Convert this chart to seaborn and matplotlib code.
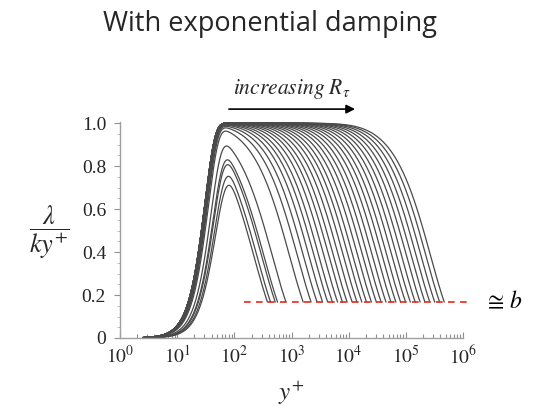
import numpy as np
import pandas as pd
import matplotlib
matplotlib.use("Agg")
import matplotlib.pyplot as plt
import seaborn as sns

# Friction Reynolds numbers of the plotted cases (each curve ends at y+ = R_tau)
r_tau = [380, 430, 520, 570, 800, 1600, 2200, 2800,
         3500, 4300, 5200, 6400, 7800, 9400, 11500, 14000, 17000, 20500,
         25000, 30500, 37000, 45000, 55000, 67000, 81000, 99000, 120000,
         146000, 178000, 216000, 263000, 320000, 390000, 470000]

# Model constants
b_value = 0.167         # outer-edge value of lambda / (k y+)
damping_a = 30.8        # near-wall damping length (wall units)
damping_n = 2.5         # exponent of the near-wall damping
low_re_shift = 250.0    # growth of the damping length at low R_tau
outer_m = 1.1           # exponent of the outer exponential damping
outer_eps = 0.03        # rounding of the outer damping near the wall

x_ticks = [1e0, 1e1, 1e2, 1e3, 1e4, 1e5, 1e6]
x_tick_labels = [r"$10^{0}$", r"$10^{1}$", r"$10^{2}$", r"$10^{3}$",
                 r"$10^{4}$", r"$10^{5}$", r"$10^{6}$"]
y_ticks = [0, 0.2, 0.4, 0.6, 0.8, 1.0]
y_tick_labels = ["0", "0.2", "0.4", "0.6", "0.8", "1.0"]


def mixing_ratio(yp, rt):
    """lambda / (k y+) with near-wall and outer exponential damping."""
    a = damping_a * (1.0 + low_re_shift / rt)
    near = 1.0 - np.exp(-(yp / a) ** damping_n)
    eta = yp / rt
    norm = (1.0 + outer_eps ** 2) ** (outer_m / 2) - outer_eps ** outer_m
    k = np.log(1.0 / b_value) / norm
    outer = np.exp(-k * ((eta ** 2 + outer_eps ** 2) ** (outer_m / 2)
                         - outer_eps ** outer_m))
    return near * outer


frames = []
for rt in r_tau:
    yp = np.logspace(np.log10(2.5), np.log10(rt), 500)
    frames.append(pd.DataFrame({"yplus": yp,
                                "ratio": mixing_ratio(yp, rt),
                                "case": rt}))
df = pd.concat(frames, ignore_index=True)

sns.set_style("white")
plt.rcParams["font.family"] = ["Liberation Serif", "DejaVu Serif"]
plt.rcParams["mathtext.fontset"] = "stix"

fig = plt.figure(figsize=(5.36, 4.09), dpi=100)
ax = fig.add_axes([0.2239, 0.1736, 0.6399, 0.5281])

sns.lineplot(data=df, x="yplus", y="ratio", units="case", estimator=None,
             color="#4a4a4a", linewidth=0.9, legend=False, ax=ax,
             sort=False)

ax.set_xscale("log")
ax.set_xlim(1e0, 1e6)
ax.set_ylim(0, 1.005)

# red dashed asymptote
ax.plot([150, 1.25e6], [b_value, b_value], color="#e8291c",
        linestyle=(0, (4, 3.2)), linewidth=1.2, clip_on=False)
ax.text(2.3e6, b_value, r"$\cong\, b$", fontsize=17,
        va="center", ha="left", color="black")

ax.set_xticks(x_ticks)
ax.set_xticklabels(x_tick_labels, fontsize=14)
ax.set_yticks(y_ticks)
ax.set_yticklabels(y_tick_labels, fontsize=14)
ax.yaxis.set_minor_locator(matplotlib.ticker.MultipleLocator(0.05))
ax.xaxis.set_minor_locator(matplotlib.ticker.LogLocator(base=10, subs=np.arange(2, 10)))
ax.xaxis.set_minor_formatter(matplotlib.ticker.NullFormatter())

ax.tick_params(axis="x", which="both", direction="in", color="#909090",
               length=4, width=0.8, pad=5, bottom=True)
ax.tick_params(axis="x", which="minor", length=3)
ax.tick_params(axis="y", which="major", direction="out", color="#909090",
               length=4, width=0.8, pad=6, left=True)
ax.tick_params(axis="y", which="minor", direction="out", color="#b0b0b0",
               length=2, width=0.6, left=True)

for side in ("top", "right"):
    ax.spines[side].set_visible(False)
for side in ("left", "bottom"):
    ax.spines[side].set_color("#a0a0a0")
    ax.spines[side].set_linewidth(1.0)

ax.set_xlabel(r"$y^{+}$", fontsize=18, labelpad=8)
ax.set_ylabel(r"$\dfrac{\lambda}{ky^{+}}$", fontsize=19, rotation=0,
              va="center")
ax.yaxis.set_label_coords(-0.205, 0.49)

# increasing R_tau annotation with arrow
ax.annotate("", xy=(1.45e4, 1.065), xytext=(7.2e1, 1.065),
            xycoords="data", textcoords="data",
            arrowprops=dict(arrowstyle="-|>", color="black", lw=1.2,
                            mutation_scale=13), annotation_clip=False)
ax.text(1.0e3, 1.135, r"$\mathit{increasing}\ R_{\tau}$", fontsize=15.5,
        ha="center", va="baseline")

fig.text(0.503, 0.941, "With exponential damping", fontsize=19.5,
         family=["Open Sans", "DejaVu Sans"], ha="center", va="center")

fig.savefig("out.png", dpi=100)
